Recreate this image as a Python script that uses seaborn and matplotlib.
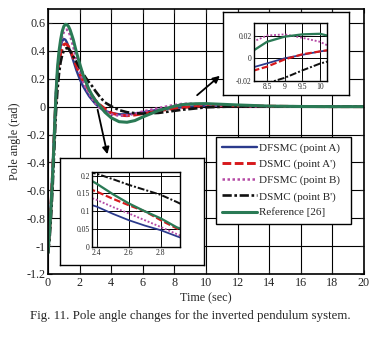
import numpy as np
import pandas as pd
import matplotlib
matplotlib.use("Agg")
import matplotlib.pyplot as plt
import seaborn as sns
from matplotlib.patches import FancyArrowPatch

# ---------------- data ----------------
t_main = [0, 0.1, 0.2, 0.3, 0.4, 0.5, 0.6, 0.7, 0.8, 0.9, 1.0, 1.1, 1.2, 1.3, 1.4,
          1.6, 1.8, 2.0, 2.2, 2.4, 2.6, 2.8, 3.0, 3.3, 3.6, 4.0, 4.5, 5.0, 5.5, 6.0,
          7.0, 8.0, 8.5, 9.0, 9.5, 10.0, 12, 14, 16, 18, 20]

dfsmc_a = [-1.05, -0.88, -0.66, -0.42, -0.15, 0.10, 0.27, 0.37, 0.43, 0.47, 0.485, 0.48, 0.46, 0.43, 0.40,
           0.33, 0.26, 0.20, 0.15, 0.112, 0.075, 0.047, 0.02, -0.01, -0.03, -0.045, -0.055, -0.055, -0.05, -0.04,
           -0.022, -0.009, -0.0045, 0.0, 0.003, 0.006, 0.006, 0.003, 0.001, 0.0, 0.0]
dsmc_a = [-1.05, -0.90, -0.68, -0.45, -0.18, 0.06, 0.22, 0.32, 0.38, 0.42, 0.445, 0.45, 0.445, 0.43, 0.405,
          0.35, 0.29, 0.235, 0.19, 0.153, 0.117, 0.078, 0.045, 0.012, -0.015, -0.045, -0.062, -0.065, -0.06, -0.05,
          -0.03, -0.013, -0.0074, -0.001, 0.0035, 0.006, 0.006, 0.003, 0.001, 0.0, 0.0]
dfsmc_b = [-1.05, -0.90, -0.70, -0.47, -0.20, 0.05, 0.24, 0.36, 0.44, 0.50, 0.535, 0.55, 0.552, 0.54, 0.51,
           0.43, 0.34, 0.26, 0.185, 0.132, 0.094, 0.056, 0.025, -0.01, -0.035, -0.055, -0.065, -0.062, -0.05, -0.035,
           -0.01, 0.012, 0.02, 0.021, 0.018, 0.0145, 0.004, 0.001, 0.0, 0.0, 0.0]
dsmc_b = [-1.05, -0.95, -0.78, -0.56, -0.30, -0.05, 0.12, 0.24, 0.32, 0.37, 0.40, 0.415, 0.42, 0.415, 0.40,
          0.36, 0.32, 0.28, 0.24, 0.205, 0.174, 0.146, 0.112, 0.068, 0.03, 0.003, -0.025, -0.04, -0.047, -0.05,
          -0.045, -0.03, -0.022, -0.017, -0.011, -0.005, 0.002, 0.002, 0.001, 0.0, 0.0]
reference = [-1.05, -0.90, -0.70, -0.48, -0.20, 0.08, 0.28, 0.40, 0.48, 0.54, 0.575, 0.59, 0.588, 0.575, 0.55,
             0.48, 0.39, 0.31, 0.235, 0.177, 0.122, 0.08, 0.045, 0.005, -0.04, -0.08, -0.108, -0.112, -0.10, -0.074,
             -0.028, 0.003, 0.0145, 0.019, 0.021, 0.0215, 0.012, 0.004, 0.001, 0.0, 0.0]

# inset 1 (t = 2.35 .. 2.95)
t_in1 = [2.35, 2.4, 2.5, 2.6, 2.7, 2.8, 2.9, 2.95]
in1_dfsmc_a = [0.12, 0.113, 0.093, 0.075, 0.06, 0.047, 0.03, 0.022]
in1_dsmc_a = [0.163, 0.155, 0.135, 0.117, 0.10, 0.075, 0.052, 0.043]
in1_dfsmc_b = [0.14, 0.132, 0.112, 0.094, 0.075, 0.056, 0.036, 0.027]
in1_dsmc_b = [0.21, 0.205, 0.19, 0.174, 0.16, 0.146, 0.126, 0.115]
in1_reference = [0.19, 0.177, 0.148, 0.122, 0.10, 0.08, 0.055, 0.047]

# inset 2 (t = 8.1 .. 10.2)
t_in2 = [8.1, 8.5, 9.0, 9.5, 10.0, 10.2]
in2_dfsmc_a = [-0.008, -0.0045, 0.0, 0.003, 0.006, 0.0068]
in2_dsmc_a = [-0.011, -0.0074, -0.001, 0.0035, 0.006, 0.007]
in2_dfsmc_b = [0.0145, 0.02, 0.021, 0.018, 0.0145, 0.0115]
in2_dsmc_b = [-0.025, -0.022, -0.0172, -0.0107, -0.0047, -0.003]
in2_reference = [0.0065, 0.0145, 0.019, 0.021, 0.0215, 0.02]

labels = ["DFSMC (point A)", "DSMC (point A')", "DFSMC (point B)", "DSMC (point B')", "Reference [26]"]

x_ticks = [0, 2, 4, 6, 8, 10, 12, 14, 16, 18, 20]
y_ticks = [-1.2, -1.0, -0.8, -0.6, -0.4, -0.2, 0, 0.2, 0.4, 0.6]
y_ticklabels = ["-1.2", "-1", "-0.8", "-0.6", "-0.4", "-0.2", "0", "0.2", "0.4", "0.6"]
in1_xticks = [2.4, 2.6, 2.8]
in1_yticks = [0, 0.05, 0.1, 0.15, 0.2]
in1_yticklabels = ["0", "0.05", "0.1", "0.15", "0.2"]
in2_xticks = [8.5, 9, 9.5, 10]
in2_xticklabels = ["8.5", "9", "9.5", "10"]
in2_yticks = [-0.02, 0, 0.02]
in2_yticklabels = ["-0.02", "0", "0.02"]

# ---------------- style ----------------
sns.set_style("ticks")
plt.rcParams["font.family"] = ["Liberation Serif", "DejaVu Serif"]
plt.rcParams["axes.unicode_minus"] = False

styles = [
    dict(color="#2b3a8c", lw=1.7, linestyle="-"),
    dict(color="#d7191c", lw=2.1, dashes=(3, 1.2)),
    dict(color="#b54aa5", lw=1.8, dashes=(1, 1)),
    dict(color="#111111", lw=1.9, dashes=(3.5, 1, 1, 1)),
    dict(color="#2a7a55", lw=2.2, linestyle="-"),
]

W, H = 377, 343
fig = plt.figure(figsize=(W / 100, H / 100), dpi=100)

def fx(px):
    return px / W

def fy(py):
    return 1 - py / H

ax = fig.add_axes([fx(48), fy(274), fx(364) - fx(48), fy(9) - fy(274)])

series = [dfsmc_a, dsmc_a, dfsmc_b, dsmc_b, reference]
for i in range(5):
    st = dict(styles[i])
    sns.lineplot(x=t_main, y=series[i], ax=ax, label=labels[i], sort=False,
                 estimator=None, **st)

ax.set_xlim(0, 20)
ax.set_ylim(-1.2, 0.7)
ax.set_xticks(x_ticks)
ax.set_xticklabels([str(v) for v in x_ticks])
ax.set_yticks(y_ticks)
ax.set_yticklabels(y_ticklabels)
ax.grid(True, color="black", lw=0.8)
ax.tick_params(direction="in", labelsize=8.7, length=3, top=True, right=True, pad=2)
for s in ax.spines.values():
    s.set_linewidth(1.2)
    s.set_color("black")
ax.set_xlabel("Time (sec)", fontsize=8.7, labelpad=2.5)
ax.set_ylabel("Pole angle (rad)", fontsize=8.7, labelpad=4)

leg = ax.legend(loc="upper left", bbox_to_anchor=(fx(216), fy(231), fx(351) - fx(216), fy(137) - fy(231)),
                bbox_transform=fig.transFigure, borderaxespad=0, mode="expand",
                fancybox=False, edgecolor="black", framealpha=1,
                fontsize=8, handlelength=3.15, labelspacing=0.55,
                handletextpad=0.2, borderpad=0.55)
leg.get_frame().set_linewidth(1.0)
leg.set_zorder(20)

def make_inset(outer, inner, t, vals, xt, xtl, yt, ytl, xlim, ylim):
    fr = fig.add_axes([fx(outer[0]), fy(outer[3]), fx(outer[2]) - fx(outer[0]), fy(outer[1]) - fy(outer[3])])
    fr.set_xticks([])
    fr.set_yticks([])
    fr.set_facecolor("white")
    for s in fr.spines.values():
        s.set_color("black")
        s.set_linewidth(1.0)
    fr.set_zorder(10)
    ia = fig.add_axes([fx(inner[0]), fy(inner[3]), fx(inner[2]) - fx(inner[0]), fy(inner[1]) - fy(inner[3])])
    ia.set_zorder(11)
    for i in range(5):
        st = dict(styles[i])
        st["lw"] = st["lw"] * 0.75
        sns.lineplot(x=t, y=vals[i], ax=ia, sort=False, estimator=None, **st)
    ia.set_xlim(*xlim)
    ia.set_ylim(*ylim)
    ia.set_xticks(xt)
    ia.set_xticklabels(xtl)
    ia.set_yticks(yt)
    ia.set_yticklabels(ytl)
    ia.grid(True, color="black", lw=0.7)
    ia.tick_params(direction="in", labelsize=5.5, length=2, pad=1.5)
    for s in ia.spines.values():
        s.set_color("black")
        s.set_linewidth(1.0)
    return ia

make_inset((60, 158, 204, 265), (92, 172, 180, 247), t_in1,
           [in1_dfsmc_a, in1_dsmc_a, in1_dfsmc_b, in1_dsmc_b, in1_reference],
           in1_xticks, [str(v) for v in in1_xticks], in1_yticks, in1_yticklabels,
           (2.37, 2.92), (0, 0.21))
make_inset((223, 12, 349, 95), (254, 23, 327, 81), t_in2,
           [in2_dfsmc_a, in2_dsmc_a, in2_dfsmc_b, in2_dsmc_b, in2_reference],
           in2_xticks, in2_xticklabels, in2_yticks, in2_yticklabels,
           (8.13, 10.2), (-0.02, 0.031))

for tail, head in [((97, 107), (108, 157)), ((195, 97), (222, 74))]:
    arr = FancyArrowPatch((fx(tail[0]), fy(tail[1])), (fx(head[0]), fy(head[1])),
                          transform=fig.transFigure, arrowstyle="-|>",
                          mutation_scale=10, color="black", lw=1.3, zorder=30)
    fig.add_artist(arr)

fig.text(fx(190), fy(316), "Fig. 11. Pole angle changes for the inverted pendulum system.",
         ha="center", va="center", fontsize=9.3)

fig.savefig("out.png", dpi=100)
